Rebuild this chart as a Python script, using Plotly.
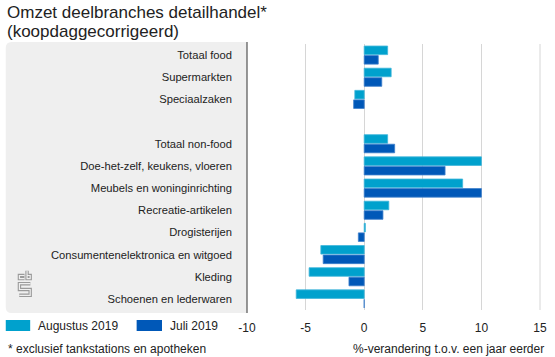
import plotly.graph_objects as go

categories = ["Totaal food", "Supermarkten", "Speciaalzaken", " ",
              "Totaal non-food", "Doe-het-zelf, keukens, vloeren",
              "Meubels en woninginrichting", "Recreatie-artikelen",
              "Drogisterijen", "Consumentenelektronica en witgoed",
              "Kleding", "Schoenen en lederwaren"]
augustus_2019 = [2.0, 2.3, -0.8, None, 2.0, 10.0, 8.4, 2.1, 0.1, -3.7, -4.7, -5.8]
juli_2019 = [1.2, 1.5, -0.9, None, 2.6, 6.9, 10.0, 1.6, -0.5, -3.5, -1.3, 0.0]
x_ticks = [-10, -5, 0, 5, 10, 15]

W, H = 555, 357
L, R, T, B = 247, 8, 44, 47
PW, PH = W - L - R, H - T - B


def px(x):
    return (x - L) / PW


def py(y):
    return (H - B - y) / PH


C_AUG = "#00A1CD"
C_JUL = "#0058B8"
TXT = "#222222"
FONT = "Liberation Sans, Arial, sans-serif"

fig = go.Figure()
fig.add_trace(go.Bar(y=categories, x=augustus_2019, orientation="h", name="Augustus 2019",
                     marker=dict(color=C_AUG, line=dict(color="#40B6DA", width=0.8))))
fig.add_trace(go.Bar(y=categories, x=juli_2019, orientation="h", name="Juli 2019",
                     marker=dict(color=C_JUL, line=dict(color="#3F80CC", width=0.8))))

shapes = []
# grey label panel with rounded left corners
x0, x1 = px(0), px(247)
yt, yb = py(42), py(313)
rx, ry = 6 / PW, 6 / PH
panel = (f"M {x1},{yt} L {x0+rx},{yt} Q {x0},{yt} {x0},{yt-ry} "
         f"L {x0},{yb+ry} Q {x0},{yb} {x0+rx},{yb} L {x1},{yb} Z")
shapes.append(dict(type="path", path=panel, xref="paper", yref="paper",
                   fillcolor="#EFEFEF", line=dict(width=0), layer="below"))
# right-edge gridline (at 15)
shapes.append(dict(type="line", xref="paper", yref="paper", x0=1, x1=1, y0=0, y1=1,
                   line=dict(color="#D6D6D6", width=1), layer="below"))
# axis line
shapes.append(dict(type="line", xref="paper", yref="paper", x0=0, x1=0, y0=py(42), y1=py(313),
                   line=dict(color="#333333", width=1)))

# cbs logo (approximation, double-stroked outline)
logo_paths = [
    [(19.2, 275.5), (14.0, 275.5), (14.0, 278.6), (19.2, 278.6)],
    [(21.8, 270.8), (21.8, 278.6), (25.0, 278.6), (25.0, 275.5), (21.8, 275.5)],
    [(25.2, 283.7), (14.0, 283.7), (14.0, 289.5), (25.0, 289.5), (25.0, 295.3), (13.8, 295.3)],
]
for pts in logo_paths:
    d = "M " + " L ".join(f"{px(a)},{py(b)}" for a, b in pts)
    shapes.append(dict(type="path", path=d, xref="paper", yref="paper",
                       line=dict(color="#9A9A9A", width=3.4)))
    shapes.append(dict(type="path", path=d, xref="paper", yref="paper",
                       line=dict(color="#EFEFEF", width=1.2)))

# legend swatches
for xa, xb, c in [(0, 25, C_AUG), (134, 160, C_JUL)]:
    shapes.append(dict(type="rect", xref="paper", yref="paper",
                       x0=px(xa), x1=px(xb), y0=py(331), y1=py(320),
                       fillcolor=c, line=dict(width=0)))

annotations = [
    dict(text="Augustus 2019", x=px(31), y=py(325.5), xanchor="left", yanchor="middle"),
    dict(text="Juli 2019", x=px(166), y=py(325.5), xanchor="left", yanchor="middle"),
    dict(text="* exclusief tankstations en apotheken", x=px(0), y=py(349),
         xanchor="left", yanchor="middle"),
    dict(text="%-verandering t.o.v. een jaar eerder", x=px(553), y=py(349),
         xanchor="right", yanchor="middle"),
    dict(text="Omzet deelbranches detailhandel*", x=px(-1), y=py(12),
         xanchor="left", yanchor="middle", font=dict(size=17, color=TXT, family=FONT)),
    dict(text="(koopdaggecorrigeerd)", x=px(-1), y=py(32),
         xanchor="left", yanchor="middle", font=dict(size=17, color=TXT, family=FONT)),
]
for a in annotations:
    a.update(xref="paper", yref="paper", showarrow=False)
    a.setdefault("font", dict(size=12, color=TXT, family=FONT))

fig.update_layout(
    width=W, height=H,
    margin=dict(l=L, r=R, t=T, b=B),
    paper_bgcolor="white", plot_bgcolor="white",
    barmode="group", bargap=0.14, bargroupgap=0.1,
    showlegend=False,
    font=dict(family=FONT, size=12, color=TXT),
    shapes=shapes, annotations=annotations,
    xaxis=dict(range=[-10, 15], tickvals=x_ticks, ticktext=[str(v) for v in x_ticks],
               showgrid=True, gridcolor="#D6D6D6", gridwidth=1, zeroline=False,
               showline=False, ticks="", ticklabelstandoff=9,
               tickfont=dict(size=12, color=TXT, family=FONT), fixedrange=True),
    yaxis=dict(type="category", categoryorder="array", categoryarray=categories,
               autorange="reversed", showgrid=False, zeroline=False, showline=False,
               ticks="", ticklabelstandoff=14,
               tickfont=dict(size=11.2, color=TXT, family=FONT), fixedrange=True),
)

fig.write_html("out.html", config={"displayModeBar": False},
               post_script="document.body.style.margin='0px';document.body.style.padding='0px';"
                           "document.documentElement.style.overflow='hidden';")
